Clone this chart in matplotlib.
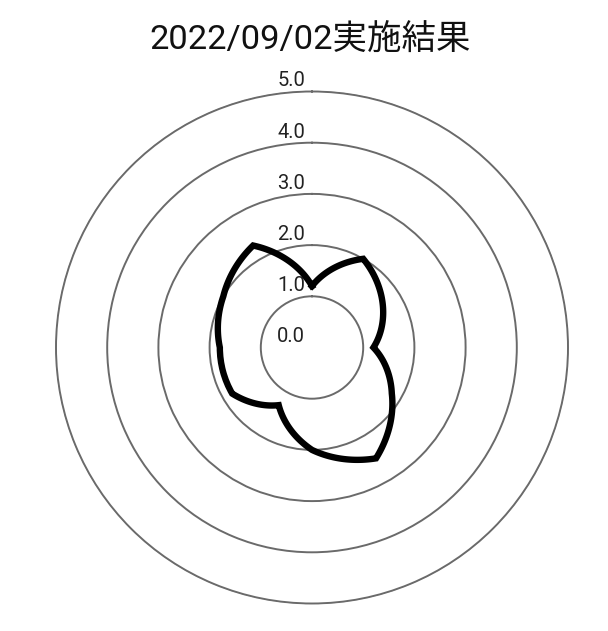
import numpy as np
import matplotlib
matplotlib.use("Agg")
import matplotlib.pyplot as plt
import matplotlib.transforms as mtransforms

plt.rcParams["font.family"] = ["Roboto", "Noto Sans CJK JP", "DejaVu Sans"]

# data (12 items, clockwise from top)
angles_deg = [0, 30, 60, 90, 120, 150, 180, 210, 240, 270, 300, 330]
scores = [1.2, 2.0, 1.6, 1.2, 1.8, 2.5, 2.0, 1.3, 1.8, 1.8, 2.0, 2.3]
r_ticks = [0, 1, 2, 3, 4, 5]
r_tick_labels = ["0.0", "1.0", "2.0", "3.0", "4.0", "5.0"]
title = "2022/09/02実施結果"

rmax = 5.03
rad_px = 256 * rmax / 5
cx, cy = 312, 631 - 347.5

fig = plt.figure(figsize=(6.08, 6.31), dpi=100)
ax = fig.add_axes([(cx - rad_px) / 608, (cy - rad_px) / 631,
                   2 * rad_px / 608, 2 * rad_px / 631], projection="polar")
ax.set_theta_zero_location("N")
ax.set_theta_direction(-1)

# close the loop at 360 deg so the last segment goes forward
theta = np.deg2rad(angles_deg + [angles_deg[0] + 360])
vals = scores + [scores[0]]
line, = ax.plot(theta, vals, color="black", linewidth=4.6,
                solid_joinstyle="miter", zorder=3)
# segments follow polar coordinates (spiral arcs) like the original chart
line.get_path()._interpolation_steps = 60

ax.set_ylim(0, rmax)
ax.set_yticks(r_ticks[1:])
ax.set_yticklabels([])
ax.set_xticks([])
ax.spines["polar"].set_visible(False)
ax.yaxis.grid(True, color="#6a6a6a", linewidth=1.4)
ax.xaxis.grid(False)

# radial labels sit just above each ring, shifted left of the axis line
offset = mtransforms.ScaledTranslation(-21 / 100, 5 / 100, fig.dpi_scale_trans)
for r, lab in zip(r_ticks, r_tick_labels):
    ax.text(0, r, lab, ha="center", va="baseline", fontsize=14.5,
            color="#222222", transform=ax.transData + offset, zorder=2)

fig.text(0.51, 0.936, title, ha="center", va="center", fontsize=24.8, color="#111111")

fig.savefig("out.png", dpi=100)
